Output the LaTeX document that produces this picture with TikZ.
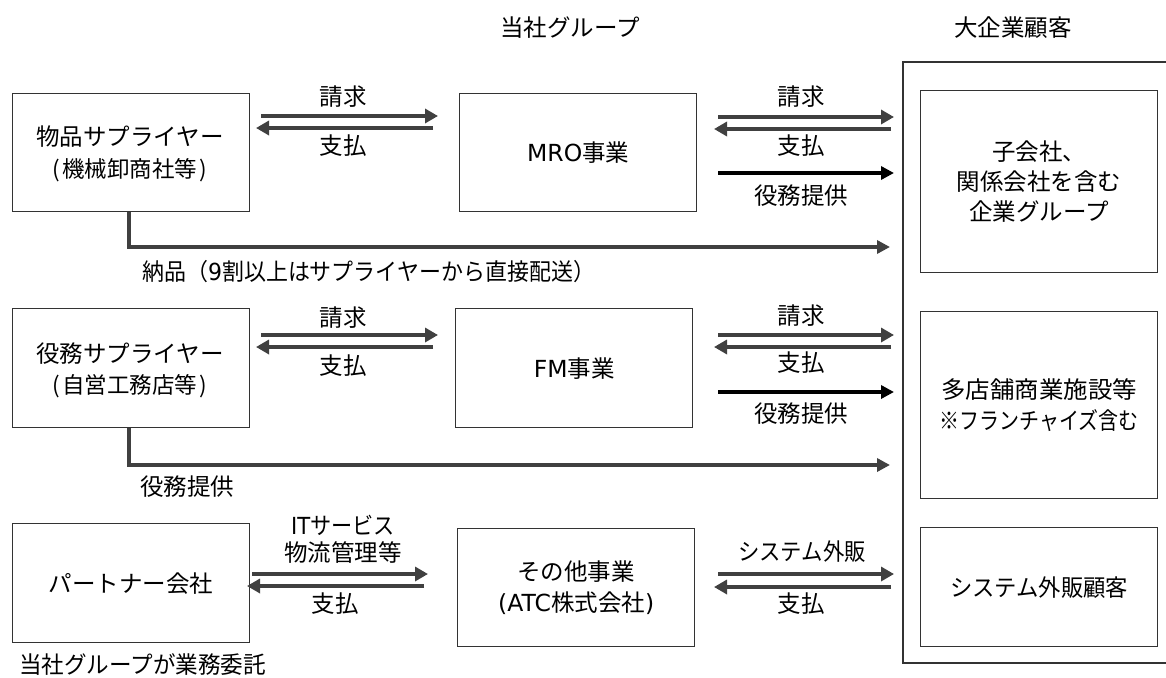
\documentclass[tikz,border=0pt]{standalone}
\usepackage{fontspec}
\setmainfont{Noto Sans CJK JP}
\newfontfamily\latf{DejaVu Sans}
\usetikzlibrary{arrows.meta}
\definecolor{arrgray}{HTML}{404040}
\definecolor{boxline}{HTML}{333333}
\newcommand{\nx}[2]{\scalebox{#1}[1]{#2}}
\tikzset{
  box/.style={draw=boxline,line width=1.4pt,minimum width=237pt,minimum height=118pt,anchor=north west,inner sep=0pt},
  lbl/.style={font=\fontsize{23.5}{28}\selectfont,inner sep=0pt,align=center},
  sublbl/.style={font=\fontsize{22.5}{26}\selectfont,inner sep=0pt},
  flow/.style={draw=arrgray,line width=4.5pt,-{Triangle[length=13pt,width=14pt]}},
  svc/.style={draw=black,line width=4pt,-{Triangle[length=13pt,width=13pt]}},
  feed/.style={draw=arrgray,line width=4pt,-{Triangle[length=13pt,width=13pt]}},
}
\begin{document}
\begin{tikzpicture}[x=1pt,y=-1pt]
\useasboundingbox (0,0) rectangle (1166,677);
% titles
\node[lbl] (tgroup) at (570,28) {当社グループ};
\node[lbl] (tcust) at (1013,28) {大企業顧客};
% outer customer frame
\draw[draw=boxline,line width=1.2pt] (1170,62) -- (903,62) -- (903,663) -- (1170,663);
% boxes
\node[box] (sup1) at (12,93) {};
\node[lbl,anchor=center] (sup1a) at (130,137) {物品サプライヤー};
\node[sublbl] (sup1b) at (130,170) {(\kern2pt 機械卸商社等\kern2pt)};
\node[box] (mro) at (459,93) {};
\node[lbl] (mrot) at (mro.center) {{\latf MRO}事業};
\node[box,minimum height=182pt] (c1) at (920,90) {};
\node[lbl,align=center,font=\fontsize{23.5}{30}\selectfont] (c1t) at (c1.center) {子会社、\\関係会社を含む\\企業グループ};

\node[box,minimum height=119pt] (sup2) at (12,308) {};
\node[lbl] (sup2a) at (130,354) {役務サプライヤー};
\node[sublbl] (sup2b) at (130,386) {(\kern2pt 自営工務店等\kern2pt)};
\node[box,minimum height=119pt] (fm) at (455,308) {};
\node[lbl] (fmt) at (fm.center) {{\latf FM}事業};
\node[box,minimum height=187pt] (c2) at (920,311) {};
\node[lbl,align=center,font=\fontsize{23.5}{31}\selectfont] (c2t) at (c2.center) {\nx{1.04}{多店舗商業施設等}\\\nx{0.85}{※フランチャイズ含む}};

\node[box,minimum height=119pt] (ptn) at (12,523) {};
\node[lbl] (ptnt) at (ptn.center) {パートナー会社};
\node[box,minimum height=118pt] (oth) at (457,528) {};
\node[lbl,align=center,font=\fontsize{23.5}{31}\selectfont] (otht) at (oth.center) {その他事業\\{\latf (ATC}株式会社{\latf )}};
\node[box,minimum height=119pt] (c3) at (920,527) {};
\node[lbl] (c3t) at (c3.center) {\nx{0.95}{システム外販顧客}};

% row 1 arrows
\coordinate (r1a) at (261,116); \coordinate (r1b) at (438,116);
\coordinate (r1c) at (433,128); \coordinate (r1d) at (256,128);
\draw[flow] (r1a) -- (r1b);
\draw[flow] (r1c) -- (r1d);
\node[lbl] (l1a) at (343,97) {請求};
\node[lbl] (l1b) at (343,146) {支払};
\coordinate (r1e) at (718,117); \coordinate (r1f) at (894,117);
\coordinate (r1g) at (891,129); \coordinate (r1h) at (714,129);
\coordinate (r1i) at (718,173); \coordinate (r1j) at (894,173);
\draw[flow] (r1e) -- (r1f);
\draw[flow] (r1g) -- (r1h);
\draw[svc] (r1i) -- (r1j);
\node[lbl] (l1c) at (801,97) {請求};
\node[lbl] (l1d) at (801,146) {支払};
\node[lbl] (l1e) at (801,196) {役務提供};
% delivery
\coordinate (d1) at (890,247);
\draw[feed] ([xshift=117pt]sup1.south west) |- (d1);
\node[lbl,anchor=west] (l1f) at (142,272) {\nx{0.935}{納品（{\latf 9}割以上はサプライヤーから直接配送）}};

% row 2 arrows
\coordinate (r2a) at (261,335); \coordinate (r2b) at (438,335);
\coordinate (r2c) at (433,347); \coordinate (r2d) at (256,347);
\draw[flow] (r2a) -- (r2b);
\draw[flow] (r2c) -- (r2d);
\node[lbl] (l2a) at (343,318) {請求};
\node[lbl] (l2b) at (343,366) {支払};
\coordinate (r2e) at (718,335); \coordinate (r2f) at (894,335);
\coordinate (r2g) at (891,347); \coordinate (r2h) at (714,347);
\coordinate (r2i) at (718,392); \coordinate (r2j) at (894,392);
\draw[flow] (r2e) -- (r2f);
\draw[flow] (r2g) -- (r2h);
\draw[svc] (r2i) -- (r2j);
\node[lbl] (l2c) at (801,316) {請求};
\node[lbl] (l2d) at (801,363) {支払};
\node[lbl] (l2e) at (801,414) {役務提供};
% service
\coordinate (d2) at (890,465);
\draw[feed] ([xshift=117pt]sup2.south west) |- (d2);
\node[lbl,anchor=west] (l2f) at (140,487) {役務提供};

% row 3 arrows
\coordinate (r3a) at (252,574); \coordinate (r3b) at (428,574);
\coordinate (r3c) at (424,586); \coordinate (r3d) at (247,586);
\draw[flow] (r3a) -- (r3b);
\draw[flow] (r3c) -- (r3d);
\node[lbl] (l3a) at (343,525) {\nx{0.9}{{\latf IT}サービス}};
\node[lbl] (l3b) at (343,553) {物流管理等};
\node[lbl] (l3c) at (335,604) {支払};
\coordinate (r3e) at (718,574); \coordinate (r3f) at (894,574);
\coordinate (r3g) at (891,587); \coordinate (r3h) at (714,587);
\draw[flow] (r3e) -- (r3f);
\draw[flow] (r3g) -- (r3h);
\node[lbl] (l3d) at (802,552) {\nx{0.91}{システム外販}};
\node[lbl] (l3e) at (801,604) {支払};
\node[lbl,anchor=west] (l3f) at (19,665) {\nx{0.96}{当社グループが業務委託}};
\end{tikzpicture}
\end{document}
